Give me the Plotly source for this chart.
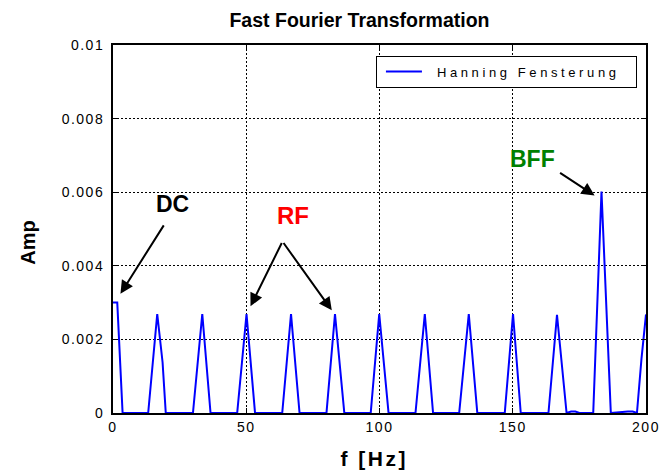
import plotly.graph_objects as go

# Spectrum vertices (frequency in Hz, amplitude)
freq = [0, 1.6, 3.6,
        13.2, 16.6, 18.6, 19.8,
        30.0, 33.5, 35.0, 36.6,
        46.6, 50.1, 53.3,
        63.5, 66.8, 70.0,
        80.1, 83.3, 86.8,
        96.7, 99.9, 103.4,
        113.5, 117.0, 120.1,
        129.9, 133.5, 136.7,
        147.0, 150.1, 153.0,
        163.4, 166.6, 170.2, 171.9, 173.5, 175.0,
        180.2, 183.3, 186.8,
        193.2, 195.0, 196.6, 198.3, 200.0]
amp = [0.0030, 0.0030, 0.0,
       0.0, 0.00269, 0.00138, 0.0,
       0.0, 0.00269, 0.00138, 0.0,
       0.0, 0.00269, 0.0,
       0.0, 0.00269, 0.0,
       0.0, 0.00269, 0.0,
       0.0, 0.00269, 0.0,
       0.0, 0.00269, 0.0,
       0.0, 0.00269, 0.0,
       0.0, 0.00269, 0.0,
       0.0, 0.00267, 0.0, 0.00004, 0.00004, 0.0,
       0.0, 0.00602, 0.0,
       0.00004, 0.00004, 0.0, 0.00147, 0.00268]

x_ticks = [0, 50, 100, 150, 200]
x_ticklabels = ["0", "50", "100", "150", "200"]
y_ticks = [0, 0.002, 0.004, 0.006, 0.008, 0.01]
y_ticklabels = ["0", "0.002", "0.004", "0.006", "0.008", "0.01"]

series_name = "Hanning Fensterung"
title_text = "Fast Fourier Transformation"
x_title = "f [Hz]"
y_title = "Amp"

fig = go.Figure()
fig.add_trace(go.Scatter(x=freq, y=amp, mode="lines", name=series_name,
                         line=dict(color="#0000ff", width=2)))

SANS = "Liberation Sans, Arial, sans-serif"
tick_font = dict(family=SANS, size=14, color="black")

axis_common = dict(showline=True, linewidth=2, linecolor="black", mirror="ticks",
                   ticks="inside", ticklen=5, tickwidth=1, tickcolor="black",
                   showgrid=True, gridcolor="black", gridwidth=1.3, griddash="2px,2px",
                   zeroline=False, tickfont=tick_font, automargin=False)

fig.update_xaxes(range=[0, 200], tickvals=x_ticks, ticktext=x_ticklabels, **axis_common)
fig.update_yaxes(range=[0, 0.01], tickvals=y_ticks, ticktext=y_ticklabels,
                 ticklabelstandoff=4, **axis_common)

bold = lambda size, color="black": dict(family=SANS, size=size, color=color, weight="bold")

arrow = dict(showarrow=True, arrowhead=2, arrowsize=1.3, arrowwidth=2, arrowcolor="black",
             xref="x", yref="y", axref="x", ayref="y", text="")
annotations = [
    dict(x=2.8, y=0.00324, ax=19.4, ay=0.00514, **arrow),
    dict(x=51.6, y=0.0029, ax=63.6, ay=0.00466, **arrow),
    dict(x=82.1, y=0.00279, ax=63.6, ay=0.00466, **arrow),
    dict(x=180.7, y=0.00591, ax=167.2, ay=0.00655, **arrow),
    dict(x=22.5, y=0.00569, text="DC", showarrow=False, xref="x", yref="y", font=bold(23)),
    dict(x=67.5, y=0.00537, text="RF", showarrow=False, xref="x", yref="y",
         font=bold(24, "#ff0000")),
    dict(x=157.5, y=0.00689, text="BFF", showarrow=False, xref="x", yref="y",
         font=bold(23, "#008000")),
    # axis titles
    dict(x=-0.159, y=0.4636, xref="paper", yref="paper", text=y_title, textangle=-90,
         showarrow=False, xanchor="center", yanchor="middle", font=bold(20)),
    dict(x=0.4906, y=-0.1237, xref="paper", yref="paper", text=x_title,
         showarrow=False, xanchor="center", yanchor="middle", font=bold(21)),
]

fig.update_layout(
    width=664, height=476,
    margin=dict(l=113, r=18, t=45, b=63),
    paper_bgcolor="white", plot_bgcolor="white",
    title=dict(text=title_text, x=0.5414, xanchor="center", y=0.957, yanchor="middle",
               font=bold(19.5)),
    showlegend=True,
    legend=dict(x=0.983, y=0.971, xanchor="right", yanchor="top",
                orientation="h", entrywidth=208, entrywidthmode="pixels", itemwidth=36,
                bgcolor="white", bordercolor="black", borderwidth=1,
                font=dict(family=SANS, size=13, color="black")),
    annotations=annotations,
)

post = """
document.body.style.margin = '0';
document.body.style.padding = '0';
var gd = document.getElementById('{plot_id}');
function spacing() {
  gd.querySelectorAll('.legendtext').forEach(function(e){
    e.style.letterSpacing = '3.6px';
    if (!e.dataset.ox) { e.dataset.ox = e.getAttribute('x'); }
    e.setAttribute('x', parseFloat(e.dataset.ox) + 14);
  });
  gd.querySelectorAll('.legendlines path').forEach(function(e){
    e.setAttribute('d', 'M9,0h36');
  });
  gd.querySelectorAll('.ytick text').forEach(function(e){ e.style.letterSpacing = '1.5px'; });
  gd.querySelectorAll('.xtick text').forEach(function(e){ e.style.letterSpacing = '1.5px'; });
  gd.querySelectorAll('.annotation-text').forEach(function(e){
    if (e.textContent === 'f [Hz]') { e.style.letterSpacing = '2.5px'; }
  });
}
spacing();
gd.on('plotly_afterplot', spacing);
"""

fig.write_html("out.html", post_script=post, config={"displayModeBar": False})
